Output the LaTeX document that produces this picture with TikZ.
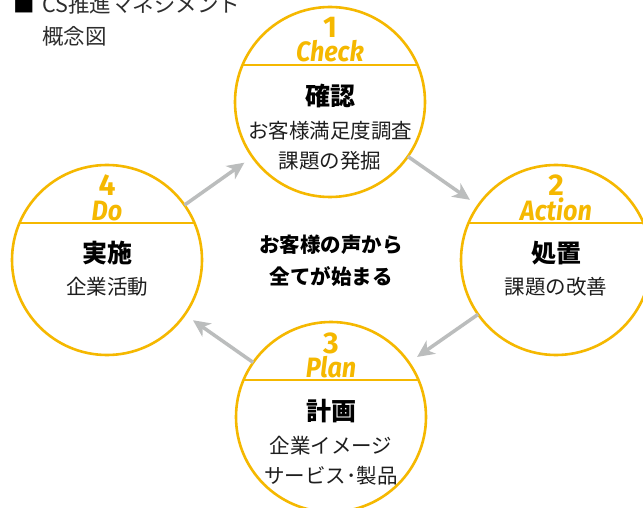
\documentclass[tikz,border=0pt]{standalone}
\usepackage{fontspec}
\usetikzlibrary{arrows.meta,calc}
\setmainfont{Noto Sans CJK JP}
\newfontfamily\latf{Fira Sans}
\definecolor{cy}{RGB}{245,184,0}
\definecolor{ag}{RGB}{187,189,189}
\definecolor{tx}{RGB}{30,30,30}
\definecolor{hd}{RGB}{45,45,45}
\begin{document}
\begin{tikzpicture}[x=1pt,y=-1pt,
  cyc/.style={circle, draw=cy, line width=2.6pt, minimum size=190pt, inner sep=0pt, outer sep=0pt},
  chord/.style={draw=cy, line width=2.6pt},
  num/.style={text=cy, font=\latf\bfseries\fontsize{30}{30}\selectfont, inner sep=0pt, anchor=base},
  word/.style={text=cy, font=\latf\bfseries\itshape\fontsize{28}{28}\selectfont, inner sep=0pt, anchor=base},
  ttl/.style={text=black, font=\bfseries\fontsize{25}{25}\selectfont, inner sep=0pt},
  sub/.style={text=tx, font=\fontsize{20.5}{20.5}\selectfont, inner sep=0pt},
  head/.style={text=hd, font=\fontsize{21.5}{21.5}\selectfont, inner sep=0pt, anchor=west},
  arr/.style={draw=ag, line width=3.5pt, -{Stealth[length=17pt,width=16pt,inset=5pt]}, shorten >=10pt}
]
\clip (0,0) rectangle (643,508);
\fill[white] (0,0) rectangle (643,508);

% header
\node[head, text=black] (hsq) at (13,4) {■};
\node[head] (h1) at (42,4) {CS推進マネジメント};
\node[head] (h2) at (42,36) {概念図};

% circles
\node[cyc] (c1) at (330,102) {};
\node[cyc] (c2) at (556,260) {};
\node[cyc] (c3) at (331,417) {};
\node[cyc] (c4) at (107,260) {};

\foreach \c in {c1,c2,c3,c4}{
  \draw[chord] (\c) ++(-87.5,-37) -- ++(175,0);
}

% circle 1
\node[num] (n1) at ($(c1)+(0,-64)$) {1};
\node[word] (w1) at ($(c1)+(0,-40)$) {\scalebox{0.9}[1]{Check}};
\node[ttl] (t1) at ($(c1)+(0,-6)$) {確認};
\node[sub] (s1a) at ($(c1)+(0,29)$) {お客様満足度調査};
\node[sub] (s1b) at ($(c1)+(0,59)$) {課題の発掘};

% circle 2
\node[num] (n2) at ($(c2)+(0,-64)$) {2};
\node[word] (w2) at ($(c2)+(0,-40)$) {\scalebox{0.9}[1]{Action}};
\node[ttl] (t2) at ($(c2)+(0,-7)$) {処置};
\node[sub] (s2a) at ($(c2)+(0,27)$) {課題の改善};

% circle 3
\node[num] (n3) at ($(c3)+(0,-64)$) {3};
\node[word] (w3) at ($(c3)+(0,-40)$) {\scalebox{0.9}[1]{Plan}};
\node[ttl] (t3) at ($(c3)+(0,-6)$) {計画};
\node[sub] (s3a) at ($(c3)+(0,29)$) {企業イメージ};
\node[sub] (s3b) at ($(c3)+(0,59)$) {サービス･製品};

% circle 4
\node[num] (n4) at ($(c4)+(0,-64)$) {4};
\node[word] (w4) at ($(c4)+(0,-40)$) {\scalebox{0.9}[1]{Do}};
\node[ttl] (t4) at ($(c4)+(0,-7)$) {実施};
\node[sub] (s4a) at ($(c4)+(0,27)$) {企業活動};

% centre text
\node[text=black, font=\bfseries\fontsize{20.5}{32}\selectfont, align=center, inner sep=0pt] (ctr) at (331,261) {お客様の声から\\全てが始まる};

% arrows
\draw[arr] (c1) -- (c2);
\draw[arr] (c2) -- (c3);
\draw[arr] (c3) -- (c4);
\draw[arr] (c4) -- (c1);
\end{tikzpicture}
\end{document}
